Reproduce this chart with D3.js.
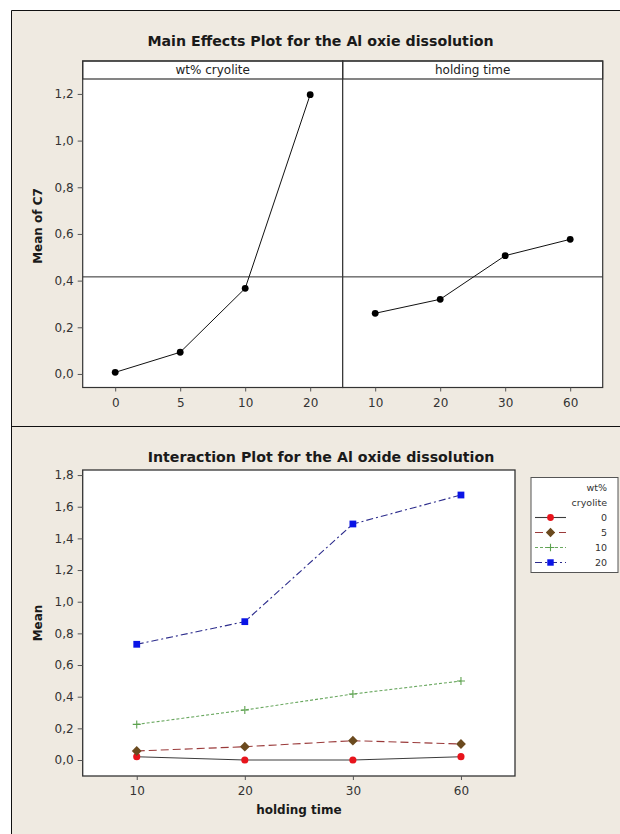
<!DOCTYPE html>
<html>
<head>
<meta charset="utf-8">
<script src="https://cdn.jsdelivr.net/npm/d3@7"></script>
<style>
  html, body { margin: 0; padding: 0; background: #ffffff; }
  svg { display: block; }
  text { font-family: "DejaVu Sans", "Noto Sans", sans-serif; }
</style>
</head>
<body>
<svg id="chart" width="620" height="834"></svg>
<script>
// ---- data ----
const cryoliteLevels = ["0", "5", "10", "20"];
const cryoliteMeans = [0.007, 0.093, 0.367, 1.197];
const timeLevels = ["10", "20", "30", "60"];
const timeMeans = [0.26, 0.32, 0.507, 0.577];
const grandMean = 0.416;
const mainTicks = [0, 0.2, 0.4, 0.6, 0.8, 1.0, 1.2];

const seriesNames = ["0", "5", "10", "20"];
const seriesCryolite0 = [0.021, 0.0, 0.0, 0.021];
const seriesCryolite5 = [0.057, 0.084, 0.122, 0.101];
const seriesCryolite10 = [0.225, 0.316, 0.417, 0.499];
const seriesCryolite20 = [0.731, 0.874, 1.491, 1.674];
const interactionTicks = [0, 0.2, 0.4, 0.6, 0.8, 1.0, 1.2, 1.4, 1.6, 1.8];

// ---- styles per series ----
const seriesStyle = [
  { line: "#3c3c3c", dash: null, marker: "circle", fill: "#e8141c" },
  { line: "#9a3a3a", dash: "8,4", marker: "diamond", fill: "#6b4a1e" },
  { line: "#6aa860", dash: "3,2", marker: "plus", fill: "#5da24f" },
  { line: "#2c2c8c", dash: "7,3,2,3", marker: "square", fill: "#0a14e6" }
];
const seriesValues = [seriesCryolite0, seriesCryolite5, seriesCryolite10, seriesCryolite20];

const svg = d3.select("#chart");
const beige = "#efeae1";
const frame = "#333333";
const commaFmt = v => d3.format(".1f")(v).replace(".", ",");

// ---- background panels ----
svg.append("rect").attr("x", 11.5).attr("y", 10.5).attr("width", 620).attr("height", 416)
  .attr("fill", beige);
svg.append("rect").attr("x", 11.5).attr("y", 426.5).attr("width", 620).attr("height", 420)
  .attr("fill", beige);
svg.append("path").attr("d", "M11.5,834V10.5H620").attr("fill", "none").attr("stroke", "#111").attr("stroke-width", 1);
svg.append("path").attr("d", "M11.5,426.5H620").attr("fill", "none").attr("stroke", "#111").attr("stroke-width", 1);

// ================= Main effects plot =================
svg.append("text").attr("x", 320.5).attr("y", 45.5).attr("text-anchor", "middle")
  .attr("font-size", 14.2).attr("font-weight", "bold").attr("fill", "#1a1a1a")
  .text("Main Effects Plot for the Al oxie dissolution");

const mTop = 61, mStrip = 79, mBottom = 387.5;
const yMain = d3.scaleLinear().domain([-0.058, 1.264]).range([mBottom, mStrip]);

const panels = [
  { title: "wt% cryolite", x0: 82.7, x1: 342.7, levels: cryoliteLevels, means: cryoliteMeans },
  { title: "holding time", x0: 342.7, x1: 602.7, levels: timeLevels, means: timeMeans }
];

panels.forEach((p, i) => {
  const g = svg.append("g");
  g.append("rect").attr("x", p.x0).attr("y", mTop).attr("width", p.x1 - p.x0).attr("height", mBottom - mTop)
    .attr("fill", "#ffffff");
  const x = d3.scalePoint().domain(p.levels).range([p.x0, p.x1]).padding(0.5);

  // reference line at the grand mean
  g.append("line").attr("x1", p.x0).attr("x2", p.x1)
    .attr("y1", yMain(grandMean)).attr("y2", yMain(grandMean))
    .attr("stroke", "#2a2a2a").attr("stroke-width", 1);

  const line = d3.line().x((d, k) => x(p.levels[k])).y(d => yMain(d));
  g.append("path").datum(p.means).attr("d", line).attr("fill", "none")
    .attr("stroke", "#111").attr("stroke-width", 1);
  g.selectAll("circle").data(p.means).join("circle")
    .attr("cx", (d, k) => x(p.levels[k])).attr("cy", d => yMain(d)).attr("r", 3.4)
    .attr("fill", "#000");

  // strip header
  g.append("rect").attr("x", p.x0).attr("y", mTop).attr("width", p.x1 - p.x0).attr("height", mStrip - mTop)
    .attr("fill", "#ffffff").attr("stroke", frame).attr("stroke-width", 1.2);
  g.append("text").attr("x", (p.x0 + p.x1) / 2).attr("y", (mTop + mStrip) / 2 + 4.3)
    .attr("text-anchor", "middle").attr("font-size", 12).attr("fill", "#222").text(p.title);

  // frame
  g.append("rect").attr("x", p.x0).attr("y", mTop).attr("width", p.x1 - p.x0).attr("height", mBottom - mTop)
    .attr("fill", "none").attr("stroke", frame).attr("stroke-width", 1.2);

  // x axis
  const ax = g.append("g").attr("transform", `translate(0,${mBottom})`)
    .call(d3.axisBottom(x).tickSize(4).tickPadding(7));
  ax.select(".domain").remove();
  ax.selectAll("line").attr("stroke", "#555");
  ax.selectAll("text").attr("font-size", 12).attr("fill", "#333").attr("font-family", "DejaVu Sans");

  if (i === 0) {
    const ay = g.append("g").attr("transform", `translate(${p.x0},0)`)
      .call(d3.axisLeft(yMain).tickValues(mainTicks).tickFormat(commaFmt).tickSize(5).tickPadding(4));
    ay.select(".domain").remove();
    ay.selectAll("line").attr("stroke", "#555");
    ay.selectAll("text").attr("font-size", 12).attr("fill", "#333").attr("font-family", "DejaVu Sans");
  }
});

svg.append("text").attr("transform", "translate(42,226) rotate(-90)").attr("text-anchor", "middle")
  .attr("font-size", 12).attr("font-weight", "bold").attr("fill", "#1a1a1a").text("Mean of C7");

// ================= Interaction plot =================
svg.append("text").attr("x", 321).attr("y", 461.5).attr("text-anchor", "middle")
  .attr("font-size", 14.2).attr("font-weight", "bold").attr("fill", "#1a1a1a")
  .text("Interaction Plot for the Al oxide dissolution");

const iLeft = 82.7, iRight = 515, iTop = 470, iBottom = 776;
const xI = d3.scalePoint().domain(timeLevels).range([iLeft, iRight]).padding(0.5);
const yI = d3.scaleLinear().domain([-0.101, 1.832]).range([iBottom, iTop]);

svg.append("rect").attr("x", iLeft).attr("y", iTop).attr("width", iRight - iLeft).attr("height", iBottom - iTop)
  .attr("fill", "#ffffff");

function drawMarker(g, type, cx, cy, fill, scale) {
  const s = scale || 1;
  if (type === "plus") {
    g.append("path").attr("d", `M${cx - 4 * s},${cy}H${cx + 4 * s}M${cx},${cy - 4 * s}V${cy + 4 * s}`)
      .attr("stroke", fill).attr("stroke-width", 1.1).attr("fill", "none");
    return;
  }
  if (type === "diamond") {
    // square turned by 45 degrees
    g.append("path").attr("d", d3.symbol(d3.symbolSquare, 48 * s * s)())
      .attr("transform", `translate(${cx},${cy}) rotate(45)`).attr("fill", fill);
    return;
  }
  const sym = { circle: d3.symbolCircle, square: d3.symbolSquare }[type];
  const size = { circle: 40, square: 46 }[type] * s * s;
  g.append("path").attr("d", d3.symbol(sym, size)()).attr("transform", `translate(${cx},${cy})`)
    .attr("fill", fill);
}

const lineI = d3.line().x((d, k) => xI(timeLevels[k])).y(d => yI(d));
seriesValues.forEach((vals, si) => {
  const st = seriesStyle[si];
  const g = svg.append("g");
  g.append("path").datum(vals).attr("d", lineI).attr("fill", "none")
    .attr("stroke", st.line).attr("stroke-width", 1.1)
    .attr("stroke-dasharray", st.dash);
  vals.forEach((v, k) => drawMarker(g, st.marker, xI(timeLevels[k]), yI(v), st.fill));
});

svg.append("rect").attr("x", iLeft).attr("y", iTop).attr("width", iRight - iLeft).attr("height", iBottom - iTop)
  .attr("fill", "none").attr("stroke", frame).attr("stroke-width", 1.3);

const axI = svg.append("g").attr("transform", `translate(0,${iBottom})`)
  .call(d3.axisBottom(xI).tickSize(4).tickPadding(6));
axI.select(".domain").remove();
axI.selectAll("line").attr("stroke", "#555");
axI.selectAll("text").attr("font-size", 12).attr("fill", "#333").attr("font-family", "DejaVu Sans");

const ayI = svg.append("g").attr("transform", `translate(${iLeft},0)`)
  .call(d3.axisLeft(yI).tickValues(interactionTicks).tickFormat(commaFmt).tickSize(5).tickPadding(4));
ayI.select(".domain").remove();
ayI.selectAll("line").attr("stroke", "#555");
ayI.selectAll("text").attr("font-size", 12).attr("fill", "#333").attr("font-family", "DejaVu Sans");

svg.append("text").attr("x", (iLeft + iRight) / 2).attr("y", 813.5).attr("text-anchor", "middle")
  .attr("font-size", 12).attr("font-weight", "bold").attr("fill", "#1a1a1a").text("holding time");
svg.append("text").attr("transform", `translate(42,${(iTop + iBottom) / 2}) rotate(-90)`).attr("text-anchor", "middle")
  .attr("font-size", 12).attr("font-weight", "bold").attr("fill", "#1a1a1a").text("Mean");

// ---- legend ----
const lg = svg.append("g");
lg.append("rect").attr("x", 531).attr("y", 477.5).attr("width", 87).attr("height", 95)
  .attr("fill", "#ffffff").attr("stroke", "#555").attr("stroke-width", 1);
lg.append("text").attr("x", 607).attr("y", 491).attr("text-anchor", "end").attr("font-size", 9.5)
  .attr("fill", "#333").text("wt%");
lg.append("text").attr("x", 607).attr("y", 506).attr("text-anchor", "end").attr("font-size", 9.5)
  .attr("fill", "#333").text("cryolite");
seriesNames.forEach((name, si) => {
  const st = seriesStyle[si];
  const cy = 517.5 + si * 15;
  lg.append("line").attr("x1", 535).attr("x2", 566).attr("y1", cy).attr("y2", cy)
    .attr("stroke", st.line).attr("stroke-width", 1.1).attr("stroke-dasharray", st.dash);
  drawMarker(lg, st.marker, 550.5, cy, st.fill, 0.95);
  lg.append("text").attr("x", 607).attr("y", cy + 3.5).attr("text-anchor", "end").attr("font-size", 9.5)
    .attr("fill", "#333").text(name);
});
</script>
</body>
</html>
